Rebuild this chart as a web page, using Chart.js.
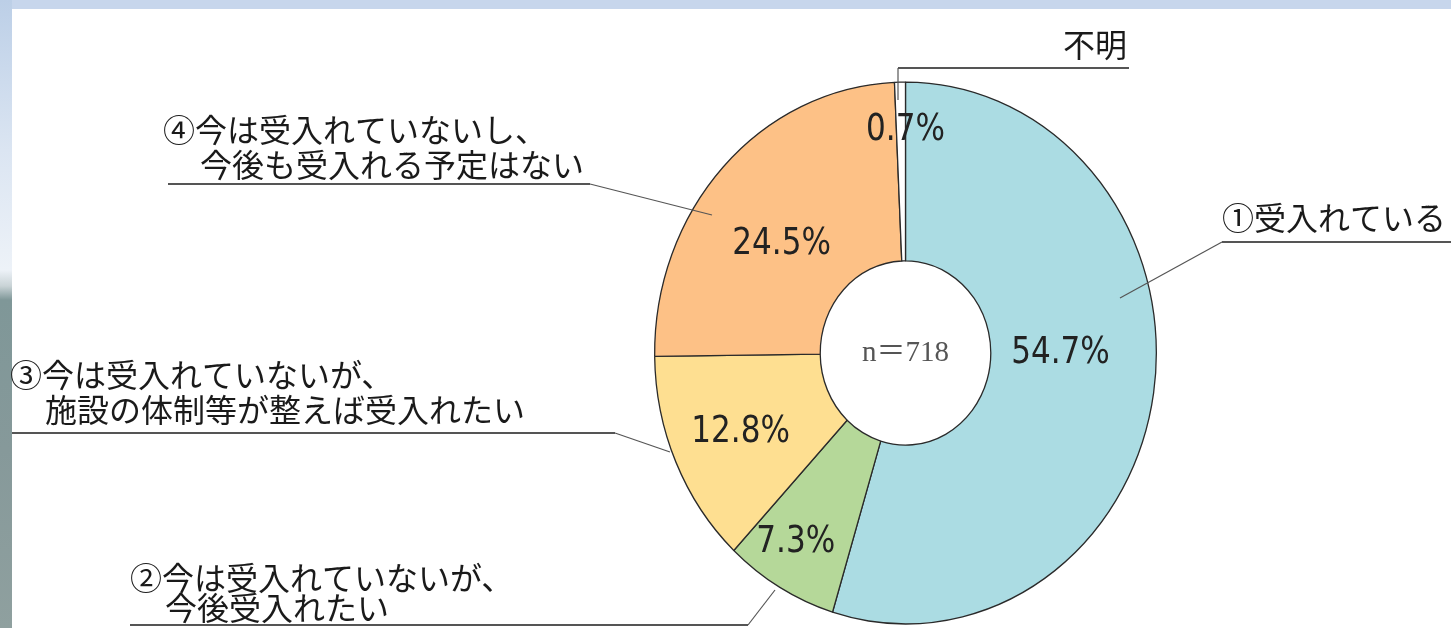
<!DOCTYPE html>
<html>
<head>
<meta charset="utf-8">
<script src="https://cdn.jsdelivr.net/npm/chart.js@4.4.1/dist/chart.umd.min.js"></script>
<style>
  html, body { margin: 0; padding: 0; }
  body {
    width: 1451px; height: 628px; overflow: hidden; position: relative;
    background: #c7d6ec;
  }
  #strip {
    position: absolute; left: 0; top: 0; width: 12px; height: 628px;
    background: linear-gradient(to bottom, #bccfe7 0px, #dbe5f2 150px, #edf2f8 270px, #c9d3d6 286px, #7f9798 300px, #86999a 450px, #8fa09f 628px);
  }
  #panel {
    position: absolute; left: 12px; top: 9px; right: 0; bottom: 0;
    background: #ffffff;
  }
  #wrap { position: absolute; left: 0; top: 0; width: 1451px; height: 628px; }
</style>
</head>
<body>
<div id="strip"></div>
<div id="panel"></div>
<div id="wrap"><canvas id="pie-chart" width="1451" height="628"></canvas></div>
<script>
// data
var categories = ['①受入れている', '②今は受入れていないが、今後受入れたい', '③今は受入れていないが、施設の体制等が整えば受入れたい', '④今は受入れていないし、今後も受入れる予定はない', '不明'];
var values = [54.7, 7.3, 12.8, 24.5, 0.7];
var sampleSize = 'n＝718';

// label texts as printed (line breaks)
var labelLines = [
    ['①受入れている'],
    ['②今は受入れていないが、', '今後受入れたい'],
    ['③今は受入れていないが、', '施設の体制等が整えば受入れたい'],
    ['④今は受入れていないし、', '今後も受入れる予定はない'],
    ['不明']
];

// styles / layout
var colors = ['#abdce3', '#b5d899', '#fedf91', '#fdc186', '#ffffff'];
var labelLayout = [
    { lines: [[1222, 218]], align: 'left', under: [1222, 1451, 242], leader: [[1222, 242], [1120, 298]] },
    { lines: [[130, 578], [165, 608]], align: 'left', under: [130, 748, 625], leader: [[748, 625], [775, 590]] },
    { lines: [[10, 375], [45, 410]], align: 'left', under: [12, 615, 433], leader: [[615, 433], [670, 452]] },
    { lines: [[163, 130], [200, 165]], align: 'left', under: [168, 590, 184], leader: [[590, 184], [712, 215]] },
    { lines: [[1127, 45]], align: 'right', under: [898, 1129, 68], leader: [[898, 68], [898, 100]] }
];
var pctRadius = [155, 219, 183, 165, 223];
var pctAngleShift = [-8.5, 0, -2, -2, 1.26];
var stretchY = 1.08;   // the original picture is a little taller than wide

var labelsPlugin = {
    id: 'labelsPlugin',
    beforeDatasetsDraw: function(chart) {
        var ctx = chart.ctx;
        var cy = (chart.chartArea.top + chart.chartArea.bottom) / 2;
        ctx.save();
        ctx.translate(0, cy);
        ctx.scale(1, stretchY);
        ctx.translate(0, -cy);
    },
    afterDatasetsDraw: function(chart) {
        var ctx = chart.ctx;
        ctx.restore();
        var arcs = chart.getDatasetMeta(0).data;
        ctx.save();

        // percentages (condensed look)
        ctx.font = '37px "DejaVu Sans", sans-serif';
        ctx.fillStyle = '#222';
        ctx.textAlign = 'center';
        ctx.textBaseline = 'middle';
        arcs.forEach(function(arc, i) {
            var p = arc.getProps(['x', 'y', 'startAngle', 'endAngle'], true);
            var a = (p.startAngle + p.endAngle) / 2 + pctAngleShift[i] * Math.PI / 180;
            var tx = p.x + pctRadius[i] * Math.cos(a);
            var ty = p.y + pctRadius[i] * Math.sin(a);
            ctx.save();
            ctx.translate(tx, ty);
            ctx.scale(0.84, 1);
            ctx.fillText(values[i].toFixed(1) + '%', 0, 0);
            ctx.restore();
        });

        // centre text
        var c = arcs[0].getProps(['x', 'y'], true);
        ctx.font = '29px "Liberation Serif", "Noto Sans CJK JP", serif';
        ctx.fillStyle = '#555';
        ctx.fillText(sampleSize, c.x, c.y);

        // category labels with underline and leader
        ctx.font = '32px "Noto Sans CJK JP", sans-serif';
        labelLayout.forEach(function(l, i) {
            ctx.fillStyle = '#1a1a1a';
            ctx.textAlign = l.align;
            l.lines.forEach(function(pos, k) {
                ctx.fillText(labelLines[i][k], pos[0], pos[1]);
            });
            ctx.strokeStyle = '#555';
            ctx.lineWidth = 2;
            ctx.beginPath();
            ctx.moveTo(l.under[0], l.under[2]);
            ctx.lineTo(l.under[1], l.under[2]);
            ctx.stroke();
            ctx.lineWidth = 1.2;
            ctx.beginPath();
            ctx.moveTo(l.leader[0][0], l.leader[0][1]);
            ctx.lineTo(l.leader[1][0], l.leader[1][1]);
            ctx.stroke();
        });
        ctx.restore();
    }
};

var pieChart = new Chart(document.getElementById('pie-chart'), {
    type: 'doughnut',
    data: {
        labels: categories,
        datasets: [{
            data: values,
            backgroundColor: colors,
            borderColor: '#2a2a2a',
            borderWidth: 1.3,
            hoverOffset: 0
        }]
    },
    options: {
        responsive: false,
        animation: false,
        cutout: '34%',
        layout: {
            padding: { left: 654, right: 294, top: 101.5, bottom: 23.5 }
        },
        plugins: {
            legend: { display: false },
            tooltip: { enabled: false }
        }
    },
    plugins: [labelsPlugin]
});
</script>
</body>
</html>
